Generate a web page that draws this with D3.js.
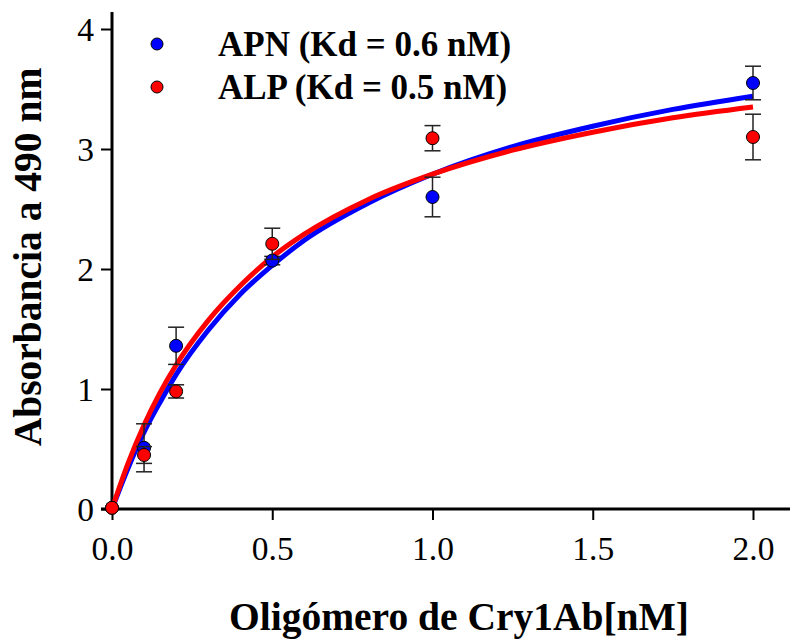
<!DOCTYPE html>
<html>
<head>
<meta charset="utf-8">
<script src="https://cdn.jsdelivr.net/npm/d3@7"></script>
<style>
  body { margin: 0; background: #fff; }
  svg text { font-family: "Liberation Serif", "Times New Roman", serif; }
</style>
</head>
<body>
<div id="chart"></div>
<script>
// Data
var concentrations = [0, 0.1, 0.2, 0.5, 1.0, 2.0];
var apnValues = [0.01, 0.51, 1.36, 2.07, 2.60, 3.55];
var apnErrors = [0, 0.20, 0.155, 0.035, 0.165, 0.14];
var alpValues = [0.01, 0.45, 0.98, 2.21, 3.09, 3.10];
var alpErrors = [0, 0.07, 0.055, 0.13, 0.105, 0.19];

// Fitted curves as they appear in the figure
var curveX = [0, 0.05, 0.1, 0.15, 0.2, 0.3, 0.4, 0.5, 0.6, 0.8, 1.0, 1.25, 1.5, 1.75, 2.0];
var apnCurve = [0, 0.34, 0.64, 0.89, 1.12, 1.49, 1.79, 2.03, 2.24, 2.55, 2.79, 3.02, 3.19, 3.33, 3.44];
var alpCurve = [0, 0.38, 0.70, 0.97, 1.20, 1.57, 1.86, 2.10, 2.29, 2.58, 2.79, 2.99, 3.14, 3.26, 3.35];

var xTicks = [0, 0.5, 1.0, 1.5, 2.0];
var yTicks = [0, 1, 2, 3, 4];
var legendLabels = ["APN (Kd = 0.6 nM)", "ALP (Kd = 0.5 nM)"];
var seriesColors = ["#0000ff", "#ff0000"];

// SVG dimensions
var svgWidth = 792;
var svgHeight = 639;

var svg = d3.select("#chart")
    .append("svg")
    .attr("width", svgWidth)
    .attr("height", svgHeight);

var x = d3.scaleLinear().domain([0, 2]).range([112, 753]);
var y = d3.scaleLinear().domain([0, 4]).range([509, 29]);

// Axes
var bottomAxis = d3.axisBottom(x)
    .tickValues(xTicks)
    .tickFormat(d3.format(".1f"))
    .tickSize(11)
    .tickSizeOuter(0)
    .tickPadding(10);

var leftAxis = d3.axisLeft(y)
    .tickValues(yTicks)
    .tickFormat(d3.format("d"))
    .tickSize(11)
    .tickSizeOuter(0)
    .tickPadding(7);

var xAxis = svg.append("g")
    .attr("transform", `translate(0, ${y(0)})`)
    .call(bottomAxis);

var yAxis = svg.append("g")
    .attr("transform", `translate(${x(0)}, 0)`)
    .call(leftAxis);

[xAxis, yAxis].forEach(function(ax) {
    ax.select(".domain").remove();
    ax.selectAll(".tick line").attr("stroke", "#000").attr("stroke-width", 2);
    ax.selectAll(".tick text")
        .attr("fill", "#000")
        .attr("font-size", 33.5);
});
xAxis.selectAll(".tick text").attr("dy", "0.9em");
yAxis.selectAll(".tick text").attr("dy", "0.33em");

// Axis lines (x extends past 2.0, y extends above 4)
svg.append("line")
    .attr("x1", x(0) - 11).attr("x2", 790)
    .attr("y1", y(0)).attr("y2", y(0))
    .attr("stroke", "#000").attr("stroke-width", 3);
svg.append("line")
    .attr("x1", x(0)).attr("x2", x(0))
    .attr("y1", 12).attr("y2", y(0) + 1)
    .attr("stroke", "#000").attr("stroke-width", 3);

// Axis titles
svg.append("text")
    .attr("x", 459)
    .attr("y", 630)
    .attr("text-anchor", "middle")
    .attr("font-size", 39.5)
    .attr("font-weight", "bold")
    .text("Oligómero de Cry1Ab[nM]");

svg.append("text")
    .attr("transform", "translate(41, 257) rotate(-90)")
    .attr("text-anchor", "middle")
    .attr("font-size", 39.5)
    .attr("font-weight", "bold")
    .text("Absorbancia a 490 nm");

// Fitted curves
var line = d3.line()
    .x(function(d) { return x(d[0]); })
    .y(function(d) { return y(d[1]); })
    .curve(d3.curveMonotoneX);

[apnCurve, alpCurve].forEach(function(vals, i) {
    svg.append("path")
        .datum(curveX.map(function(cx, j) { return [cx, vals[j]]; }))
        .attr("d", line)
        .attr("fill", "none")
        .attr("stroke", seriesColors[i])
        .attr("stroke-width", 5);
});

// Error bars and points
function drawSeries(values, errors, color) {
    var data = concentrations.map(function(c, i) {
        return { x: c, y: values[i], e: errors[i] };
    });
    var bars = svg.append("g")
        .attr("stroke", "#222")
        .attr("stroke-width", 1.5);
    data.filter(function(d) { return d.e > 0; }).forEach(function(d) {
        bars.append("line")
            .attr("x1", x(d.x)).attr("x2", x(d.x))
            .attr("y1", y(d.y - d.e)).attr("y2", y(d.y + d.e));
        [d.y - d.e, d.y + d.e].forEach(function(v) {
            bars.append("line")
                .attr("x1", x(d.x) - 8).attr("x2", x(d.x) + 8)
                .attr("y1", y(v)).attr("y2", y(v));
        });
    });
    svg.append("g").selectAll("circle")
        .data(data)
        .enter()
        .append("circle")
        .attr("cx", d => x(d.x))
        .attr("cy", d => y(d.y))
        .attr("r", 6.5)
        .attr("fill", color)
        .attr("stroke", "#000")
        .attr("stroke-width", 1);
}

drawSeries(apnValues, apnErrors, seriesColors[0]);
drawSeries(alpValues, alpErrors, seriesColors[1]);

// Legend
legendLabels.forEach(function(label, i) {
    var ly = 44 + i * 43;
    svg.append("circle")
        .attr("cx", 157).attr("cy", ly).attr("r", 6)
        .attr("fill", seriesColors[i])
        .attr("stroke", "#000").attr("stroke-width", 1);
    svg.append("text")
        .attr("x", 218).attr("y", ly + 12)
        .attr("font-size", 35)
        .attr("font-weight", "bold")
        .text(label);
});
</script>
</body>
</html>
